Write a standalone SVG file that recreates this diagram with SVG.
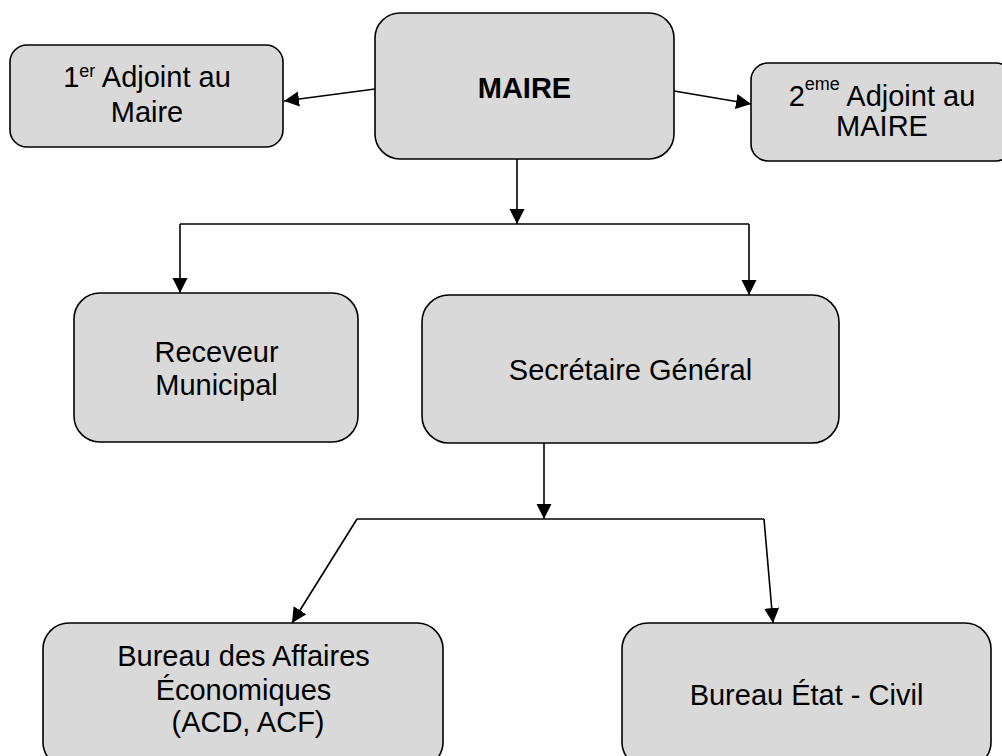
<svg xmlns="http://www.w3.org/2000/svg" width="1002" height="756" viewBox="0 0 1002 756">
  <style>
    .box { fill: #d9d9d9; stroke: #000; stroke-width: 1.6; }
    .lbl { font-family: "Liberation Sans", Arial, sans-serif; font-size: 29px; fill: #000; text-anchor: middle; }
    .bold { font-weight: bold; }
    .sup { font-size: 18px; }
    .conn { fill: none; stroke: #000; stroke-width: 1.6; }
  </style>
  <defs>
    <marker id="arrow" markerUnits="userSpaceOnUse" markerWidth="16" markerHeight="16" refX="15" refY="7.5" orient="auto">
      <path d="M0,0 L15,7.5 L0,15 z" fill="#000"/>
    </marker>
  </defs>
  <rect width="1002" height="756" fill="#fff"/>

  <g id="connectors">
    <line class="conn" x1="375" y1="89" x2="284" y2="101" marker-end="url(#arrow)"/>
    <line class="conn" x1="674" y1="91" x2="751" y2="104" marker-end="url(#arrow)"/>
    <line class="conn" x1="517" y1="159" x2="517" y2="224" marker-end="url(#arrow)"/>
    <line class="conn" x1="180" y1="224" x2="749" y2="224"/>
    <line class="conn" x1="180" y1="224" x2="180" y2="293" marker-end="url(#arrow)"/>
    <line class="conn" x1="749" y1="224" x2="749" y2="295" marker-end="url(#arrow)"/>
    <line class="conn" x1="544" y1="443" x2="544" y2="519" marker-end="url(#arrow)"/>
    <line class="conn" x1="357" y1="519" x2="764" y2="519"/>
    <line class="conn" x1="357" y1="519" x2="292" y2="623" marker-end="url(#arrow)"/>
    <line class="conn" x1="764" y1="519" x2="773" y2="623" marker-end="url(#arrow)"/>
  </g>

  <g id="maire">
    <rect class="box" x="375" y="13" width="299" height="146" rx="25" ry="25"/>
    <text class="lbl bold" x="524.5" y="98">MAIRE</text>
  </g>

  <g id="adjoint1">
    <rect class="box" x="10" y="45" width="273" height="102" rx="17" ry="17"/>
    <text class="lbl" x="147" y="86.5">1<tspan class="sup" dy="-10">er</tspan><tspan dy="10"> Adjoint au</tspan></text>
    <text class="lbl" x="147" y="121.5">Maire</text>
  </g>

  <g id="adjoint2">
    <rect class="box" x="751" y="63" width="262" height="98" rx="17" ry="17"/>
    <text class="lbl" x="882" y="106">2<tspan class="sup" dy="-16">eme</tspan><tspan dy="16"> Adjoint au</tspan></text>
    <text class="lbl" x="882" y="136">MAIRE</text>
  </g>

  <g id="receveur">
    <rect class="box" x="74" y="293" width="284" height="149" rx="26" ry="26"/>
    <text class="lbl" x="216.5" y="361.5">Receveur</text>
    <text class="lbl" x="216.5" y="395">Municipal</text>
  </g>

  <g id="secretaire">
    <rect class="box" x="422" y="295" width="417" height="148" rx="27" ry="27"/>
    <text class="lbl" x="630.5" y="380">Secrétaire Général</text>
  </g>

  <g id="bureau-affaires">
    <rect class="box" x="43" y="623" width="400" height="145" rx="26" ry="26"/>
    <text class="lbl" x="243.5" y="665.5">Bureau des Affaires</text>
    <text class="lbl" x="243.5" y="699.5">Économiques</text>
    <text class="lbl" x="248" y="731.5">(ACD, ACF)</text>
  </g>

  <g id="bureau-etat-civil">
    <rect class="box" x="622" y="623" width="369" height="145" rx="26" ry="26"/>
    <text class="lbl" x="806.5" y="705">Bureau État - Civil</text>
  </g>
</svg>
